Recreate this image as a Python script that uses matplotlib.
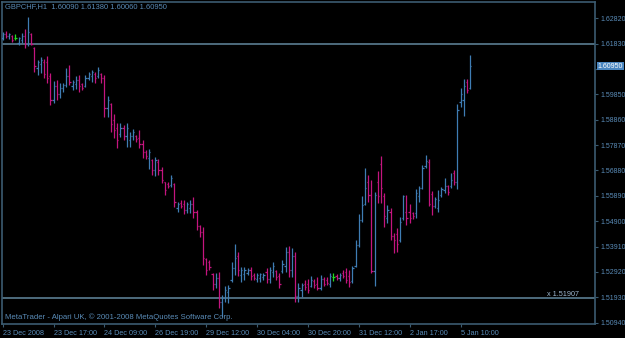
import matplotlib
matplotlib.use("Agg")
import matplotlib.pyplot as plt
import numpy as np

# ---- data (GBPCHF H1) ----
opens = [1.6205, 1.6220, 1.6212, 1.6212, 1.6205, 1.6185, 1.6197, 1.6212, 1.6181, 1.6220,
         1.6166, 1.6088, 1.6103, 1.6111, 1.6111, 1.6056, 1.5963, 1.6017, 1.5986, 1.6010,
         1.6021, 1.6056, 1.6017, 1.6025, 1.6041, 1.6025, 1.6017, 1.6049, 1.6056, 1.6064,
         1.6056, 1.6064, 1.6049, 1.5932, 1.5947, 1.5885, 1.5854, 1.5830, 1.5854, 1.5823,
         1.5807, 1.5823, 1.5823, 1.5815, 1.5791, 1.5760, 1.5736, 1.5729, 1.5690, 1.5721,
         1.5690, 1.5643, 1.5635, 1.5631, 1.5635, 1.5541, 1.5561, 1.5557, 1.5534, 1.5541,
         1.5557, 1.5526, 1.5471, 1.5448, 1.5342, 1.5331, 1.5284, 1.5245, 1.5268, 1.5175,
         1.5190, 1.5214, 1.5260, 1.5307, 1.5354, 1.5280, 1.5284, 1.5288, 1.5300, 1.5280,
         1.5264, 1.5268, 1.5272, 1.5292, 1.5264, 1.5292, 1.5296, 1.5276, 1.5296, 1.5315,
         1.5370, 1.5300, 1.5354, 1.5198, 1.5221, 1.5245, 1.5245, 1.5237, 1.5257, 1.5245,
         1.5229, 1.5264, 1.5260, 1.5245, 1.5272, 1.5276, 1.5268, 1.5288, 1.5292, 1.5276,
         1.5257, 1.5315, 1.5397, 1.5495, 1.5557, 1.5643, 1.5592, 1.5296, 1.5643, 1.5712,
         1.5588, 1.5502, 1.5526, 1.5432, 1.5440, 1.5417, 1.5502, 1.5526, 1.5526, 1.5522,
         1.5522, 1.5588, 1.5620, 1.5705, 1.5721, 1.5596, 1.5549, 1.5541, 1.5592, 1.5612,
         1.5627, 1.5627, 1.5678, 1.5643, 1.5955, 1.5963, 1.6033, 1.6009]
highs = [1.6228, 1.6232, 1.6224, 1.6216, 1.6220, 1.6209, 1.6224, 1.6240, 1.6287, 1.6224,
         1.6170, 1.6119, 1.6131, 1.6123, 1.6135, 1.6068, 1.6037, 1.6041, 1.6029, 1.6029,
         1.6088, 1.6099, 1.6041, 1.6056, 1.6060, 1.6029, 1.6060, 1.6072, 1.6080, 1.6072,
         1.6091, 1.6068, 1.6060, 1.5979, 1.5951, 1.5908, 1.5873, 1.5873, 1.5865, 1.5873,
         1.5838, 1.5850, 1.5826, 1.5846, 1.5807, 1.5768, 1.5772, 1.5733, 1.5740, 1.5733,
         1.5702, 1.5643, 1.5643, 1.5670, 1.5639, 1.5565, 1.5573, 1.5573, 1.5565, 1.5573,
         1.5585, 1.5534, 1.5475, 1.5467, 1.5346, 1.5339, 1.5288, 1.5288, 1.5292, 1.5202,
         1.5237, 1.5241, 1.5331, 1.5401, 1.5370, 1.5311, 1.5311, 1.5307, 1.5311, 1.5288,
         1.5288, 1.5288, 1.5288, 1.5307, 1.5311, 1.5331, 1.5300, 1.5288, 1.5339, 1.5389,
         1.5393, 1.5386, 1.5370, 1.5249, 1.5249, 1.5260, 1.5264, 1.5276, 1.5264, 1.5272,
         1.5280, 1.5272, 1.5272, 1.5288, 1.5288, 1.5284, 1.5288, 1.5300, 1.5307, 1.5300,
         1.5315, 1.5417, 1.5518, 1.5588, 1.5697, 1.5670, 1.5651, 1.5604, 1.5686, 1.5744,
         1.5600, 1.5553, 1.5541, 1.5444, 1.5463, 1.5506, 1.5592, 1.5592, 1.5557, 1.5526,
         1.5615, 1.5627, 1.5709, 1.5748, 1.5733, 1.5608, 1.5584, 1.5612, 1.5624, 1.5658,
         1.5631, 1.5678, 1.5690, 1.5947, 1.6010, 1.6045, 1.6045, 1.6138]
lows = [1.6197, 1.6205, 1.6201, 1.6189, 1.6197, 1.6177, 1.6185, 1.6166, 1.6174, 1.6177,
        1.6072, 1.6060, 1.6068, 1.6049, 1.6029, 1.5943, 1.5951, 1.5963, 1.5971, 1.5994,
        1.6013, 1.6021, 1.6002, 1.6006, 1.5994, 1.6002, 1.6013, 1.6041, 1.6033, 1.6029,
        1.6049, 1.6029, 1.5896, 1.5896, 1.5838, 1.5815, 1.5775, 1.5819, 1.5807, 1.5779,
        1.5779, 1.5807, 1.5799, 1.5775, 1.5736, 1.5733, 1.5693, 1.5670, 1.5666, 1.5670,
        1.5639, 1.5592, 1.5620, 1.5624, 1.5545, 1.5526, 1.5541, 1.5518, 1.5522, 1.5522,
        1.5503, 1.5456, 1.5428, 1.5319, 1.5280, 1.5300, 1.5221, 1.5229, 1.5151, 1.5116,
        1.5175, 1.5171, 1.5253, 1.5280, 1.5276, 1.5253, 1.5260, 1.5280, 1.5260, 1.5260,
        1.5253, 1.5253, 1.5260, 1.5249, 1.5249, 1.5272, 1.5260, 1.5229, 1.5288, 1.5292,
        1.5272, 1.5272, 1.5175, 1.5175, 1.5194, 1.5221, 1.5210, 1.5233, 1.5229, 1.5221,
        1.5221, 1.5237, 1.5241, 1.5233, 1.5257, 1.5260, 1.5257, 1.5268, 1.5249, 1.5233,
        1.5249, 1.5311, 1.5389, 1.5487, 1.5553, 1.5565, 1.5288, 1.5237, 1.5561, 1.5561,
        1.5467, 1.5483, 1.5417, 1.5366, 1.5370, 1.5409, 1.5495, 1.5475, 1.5483, 1.5499,
        1.5502, 1.5565, 1.5615, 1.5697, 1.5549, 1.5514, 1.5541, 1.5526, 1.5584, 1.5600,
        1.5592, 1.5620, 1.5631, 1.5615, 1.5935, 1.5900, 1.5990, 1.6006]
closes = [1.6220, 1.6212, 1.6220, 1.6197, 1.6205, 1.6205, 1.6212, 1.6181, 1.6228, 1.6181,
          1.6095, 1.6111, 1.6119, 1.6064, 1.6049, 1.5963, 1.6017, 1.5986, 1.6010, 1.6021,
          1.6056, 1.6033, 1.6033, 1.6041, 1.6017, 1.6010, 1.6049, 1.6064, 1.6072, 1.6049,
          1.6080, 1.6049, 1.5932, 1.5963, 1.5869, 1.5846, 1.5807, 1.5854, 1.5823, 1.5854,
          1.5823, 1.5838, 1.5811, 1.5791, 1.5760, 1.5744, 1.5760, 1.5690, 1.5729, 1.5690,
          1.5651, 1.5612, 1.5627, 1.5659, 1.5565, 1.5557, 1.5549, 1.5534, 1.5557, 1.5557,
          1.5526, 1.5471, 1.5448, 1.5346, 1.5300, 1.5311, 1.5245, 1.5268, 1.5175, 1.5190,
          1.5221, 1.5229, 1.5307, 1.5346, 1.5300, 1.5300, 1.5300, 1.5300, 1.5276, 1.5268,
          1.5280, 1.5284, 1.5280, 1.5264, 1.5300, 1.5315, 1.5272, 1.5245, 1.5323, 1.5370,
          1.5300, 1.5354, 1.5198, 1.5229, 1.5241, 1.5233, 1.5221, 1.5260, 1.5241, 1.5229,
          1.5264, 1.5245, 1.5249, 1.5276, 1.5272, 1.5268, 1.5280, 1.5276, 1.5260, 1.5253,
          1.5307, 1.5397, 1.5495, 1.5553, 1.5620, 1.5592, 1.5296, 1.5592, 1.5588, 1.5620,
          1.5510, 1.5534, 1.5432, 1.5417, 1.5401, 1.5487, 1.5588, 1.5502, 1.5502, 1.5510,
          1.5600, 1.5620, 1.5697, 1.5725, 1.5557, 1.5549, 1.5577, 1.5573, 1.5615, 1.5627,
          1.5604, 1.5651, 1.5643, 1.5924, 1.5986, 1.6017, 1.6002, 1.6095]

price_levels = [1.62820, 1.61830, 1.60840, 1.59850, 1.58860, 1.57870, 1.56880,
                1.55890, 1.54900, 1.53910, 1.52920, 1.51930, 1.50940]
time_label_bars = [0, 16, 32, 48, 64, 80, 96, 112, 128, 144]
time_labels = ["23 Dec 2008", "23 Dec 17:00", "24 Dec 09:00", "26 Dec 19:00",
               "29 Dec 12:00", "30 Dec 04:00", "30 Dec 20:00", "31 Dec 12:00",
               "2 Jan 17:00", "5 Jan 10:00"]
hlines_levels = [1.6180, 1.51907]
last_close = 1.60950

# ---- style ----
BG = "#000000"
UP = "#3f7db4"
DOWN = "#c4157f"
DOJI = "#22dd22"
FRAME = "#3b5b70"
TXT = "#5a8cb8"
LINE = "#5b7d92"
FONT = ["Liberation Sans", "DejaVu Sans"]
FS = 5.2

fig = plt.figure(figsize=(6.25, 3.38), dpi=100, facecolor=BG)
ax = fig.add_axes([2 / 625, 1 - 324 / 338, 593 / 625, 322 / 338])
ax.set_facecolor(BG)

o = np.array(opens); h = np.array(highs); l = np.array(lows); c = np.array(closes)
x = np.arange(len(o))
cols = np.where(c > o, UP, np.where(c < o, DOWN, DOJI))

for lvl in hlines_levels:
    ax.axhline(lvl, color=LINE, lw=1.2, zorder=1)

ax.vlines(x, l, h, colors=cols, lw=0.9, zorder=3)
ax.hlines(o, x - 0.38, x, colors=cols, lw=0.9, zorder=3)
ax.hlines(c, x, x + 0.38, colors=cols, lw=0.9, zorder=3)

ax.set_xlim(-0.22, 186.3)
ax.set_ylim(1.50887, 1.6345)

for s in ax.spines.values():
    s.set_color(FRAME)
    s.set_linewidth(1.2)

ax.yaxis.tick_right()
ax.set_yticks(price_levels)
# the 1.60840 label is hidden behind the current-price box in the reference
ax.set_yticklabels(["" if abs(v - 1.60840) < 1e-9 else f"{v:.5f}" for v in price_levels],
                   family=FONT)
ax.tick_params(axis="y", colors=FRAME, labelcolor=TXT, length=2.5, width=0.8,
               pad=1.2, labelsize=5.0)
ax.set_xticks(time_label_bars)
ax.set_xticklabels(time_labels, ha="left", family=FONT)
ax.tick_params(axis="x", colors=FRAME, labelcolor=TXT, length=2.5, width=0.8,
               pad=1.5, labelsize=FS)

ax.text(1.004, last_close, f"{last_close:.5f}", transform=ax.get_yaxis_transform(),
        ha="left", va="center", fontsize=5.0, family=FONT, color="#ffffff",
        bbox=dict(facecolor="#4a86c0", edgecolor="none", pad=0.6), clip_on=False, zorder=10)

ax.text(0.973, hlines_levels[1], f"x {hlines_levels[1]:.5f}", transform=ax.get_yaxis_transform(),
        ha="right", va="bottom", fontsize=FS, family=FONT, color="#9fb8d0")

fig.text(5 / 625, 1 - 7 / 338,
         f"GBPCHF,H1  {opens[-1]:.5f} {highs[-1]:.5f} {lows[-1]:.5f} {closes[-1]:.5f}",
         ha="left", va="center", fontsize=5.4, family=FONT, color=TXT)
fig.text(5 / 625, 1 - 317 / 338,
         "MetaTrader - Alpari UK, \u00a9 2001-2008 MetaQuotes Software Corp.",
         ha="left", va="center", fontsize=5.6, family=FONT, color=TXT)

fig.savefig("out.png", dpi=100, facecolor=BG)
